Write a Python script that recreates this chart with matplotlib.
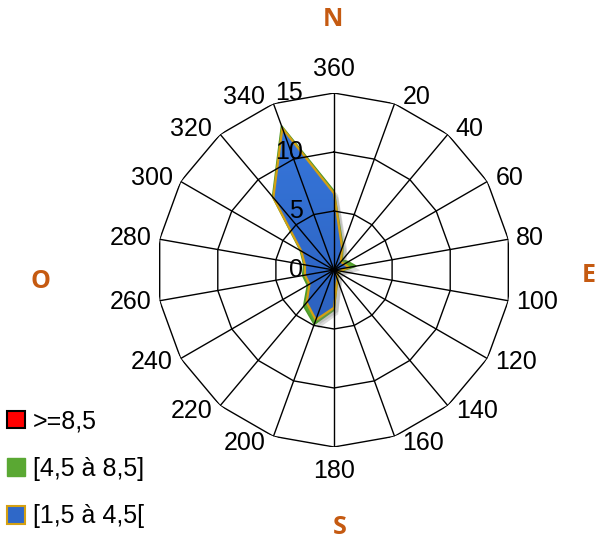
import numpy as np
import matplotlib.pyplot as plt
import matplotlib.patheffects as pe
from matplotlib.transforms import offset_copy
from matplotlib.image import BboxImage
from matplotlib.patches import Patch

plt.rcParams['font.family'] = ['Liberation Sans', 'DejaVu Sans']

# wind directions (degrees) and frequencies per speed class
directions = [360, 20, 40, 60, 80, 100, 120, 140, 160, 180,
              200, 220, 240, 260, 280, 300, 320, 340]
freq_low = [6.5, 2.0, 0.9, 1.0, 1.3, 0.5, 0.4, 0.4, 0.8, 3.2,
            4.5, 3.6, 2.4, 2.5, 2.5, 3.2, 8.0, 12.8]      # [1,5 à 4,5[
freq_mid = [6.7, 2.2, 1.1, 1.4, 1.9, 0.6, 0.5, 0.5, 0.9, 3.4,
            4.9, 4.0, 2.6, 2.7, 2.6, 3.3, 8.1, 13.0]      # [4,5 à 8,5]
freq_high = [0.0] * 18                                    # >=8,5
ring_ticks = [0, 5, 10, 15]
series_labels = ['>=8,5', '[4,5 à 8,5]', '[1,5 à 4,5[']
cardinals = {'N': (333, 20), 'E': (589, 276), 'S': (340, 528), 'O': (40, 282)}

W, H = 597, 540
fig = plt.figure(figsize=(W / 100, H / 100), dpi=100)
ax = fig.add_axes([157 / W, (H - 270 - 177) / H, 354 / W, 354 / H], projection='polar')
ax.set_theta_zero_location('N')
ax.set_theta_direction(-1)
ax.set_ylim(0, 15)
ax.grid(False)
ax.spines['polar'].set_visible(False)
ax.set_xticks([])
ax.set_yticks([])
ax.patch.set_visible(False)

theta = np.deg2rad(directions)
th = np.append(theta, theta[0])


def closed(v):
    return np.append(v, v[0])


shadow = [pe.SimplePatchShadow(offset=(3, -3), shadow_rgbFace='#888888', alpha=0.3), pe.Normal()]

ax.fill(th, closed(freq_high), facecolor='#FF0000', edgecolor='black', lw=1, zorder=1)
ax.fill(th, closed(freq_mid), facecolor='#5AA833', edgecolor='#4E9A2A', lw=1.2,
        zorder=2, path_effects=shadow)
blue = ax.fill(th, closed(freq_low), facecolor='#2F68C8', edgecolor='none',
               zorder=3, path_effects=shadow)[0]

# vertical gradient on the blue area
grad = np.linspace(0, 1, 256)[:, None]
top, bottom = np.array([0.22, 0.48, 0.88]), np.array([0.15, 0.33, 0.68])
rgb = top[None, None, :] * (1 - grad[..., None]) + bottom[None, None, :] * grad[..., None]
img = BboxImage(ax.bbox, interpolation='bilinear', zorder=3.1)
img.set_data(rgb)
img.set_clip_path(blue)
ax.add_artist(img)
ax.plot(th, closed(freq_low), color='#D4A012', lw=1.6, zorder=3.2)

# polygonal grid and spokes
for r in ring_ticks[1:]:
    ax.plot(th, [r] * len(th), color='black', lw=1, zorder=4)
for t in theta:
    ax.plot([t, t], [0, 15], color='black', lw=1, zorder=4)

# radial value labels, left of the north spoke
for r in ring_ticks:
    ax.text(0, r, str(r), transform=offset_copy(ax.transData, fig, x=-31, y=0, units='dots'),
            ha='right', va='center', fontsize=18, zorder=5)

# direction labels
for d, t in zip(directions, theta):
    s, c = np.sin(t), np.cos(t)
    if abs(s) < 0.1:
        ha = 'center'
        va = 'bottom' if c > 0 else 'top'
        dx, dy = 0, 12 * np.sign(c)
    else:
        ha = 'left' if s > 0 else 'right'
        va = 'center'
        dx, dy = 8 * np.sign(s), 7 * c
    ax.text(t, 15, str(d), transform=offset_copy(ax.transData, fig, x=dx, y=dy, units='dots'),
            ha=ha, va=va, fontsize=18, zorder=5)

for name, (x, y) in cardinals.items():
    fig.text(x / W, 1 - y / H, name, ha='center', va='center', fontsize=18,
             fontweight='bold', color='#C55A11', family='Open Sans')

handles = [Patch(facecolor='#FF0000', edgecolor='black', lw=1.5),
           Patch(facecolor='#5AA833', edgecolor='#5AA833', lw=1),
           Patch(facecolor='#2F68C8', edgecolor='#D4A012', lw=1.5)]
fig.legend(handles, series_labels, loc='upper left', bbox_to_anchor=(7 / W, 1 - 409 / H),
           frameon=False, fontsize=18, handlelength=0.7, handleheight=0.7,
           handletextpad=0.35, labelspacing=0.95, borderpad=0, borderaxespad=0)

fig.savefig('out.png', dpi=100)
